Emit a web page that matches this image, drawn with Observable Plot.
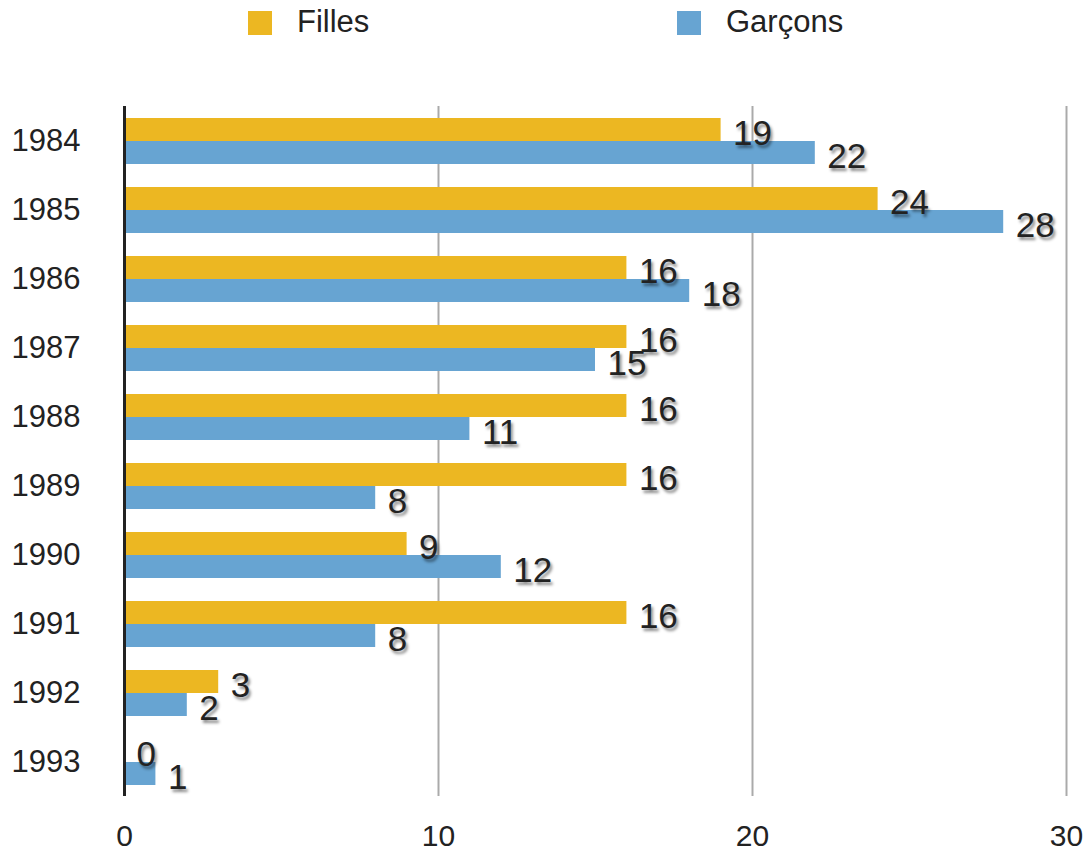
<!DOCTYPE html>
<html>
<head>
<meta charset="utf-8">
<script src="https://cdn.jsdelivr.net/npm/d3@7"></script>
<script src="https://cdn.jsdelivr.net/npm/@observablehq/plot@0.6"></script>
<style>
  body { margin: 0; background: #fff; font-family: "Liberation Sans", Arial, Helvetica, sans-serif; }
  #legend { position: relative; height: 60px; width: 1089px; }
  .sw { position: absolute; top: 11px; width: 24px; height: 24px; }
  .lb { position: absolute; top: 5px; font-size: 31px; color: #222; line-height: 34px; }
  g[aria-label="text"] text { text-shadow: 2px 3px 3px rgba(0,0,0,0.45); }
</style>
</head>
<body>
<div id="legend">
  <div class="sw" style="left:248px;background:#ECB722"></div>
  <div class="lb" style="left:297px">Filles</div>
  <div class="sw" style="left:677px;background:#67A4D2"></div>
  <div class="lb" style="left:726px">Garçons</div>
</div>
<div id="chart"></div>
<script>
const years = ["1984","1985","1986","1987","1988","1989","1990","1991","1992","1993"];
const series = ["Filles","Garçons"];
const filles = [19,24,16,16,16,16,9,16,3,0];
const garcons = [22,28,18,15,11,8,12,8,2,1];
const xTicks = [0,10,20,30];
const colors = ["#ECB722","#67A4D2"];

const data = [];
years.forEach((y,i) => {
  data.push({year: y, sex: series[0], value: filles[i]});
  data.push({year: y, sex: series[1], value: garcons[i]});
});

const chart = Plot.plot({
  width: 1089,
  height: 794,
  marginLeft: 124,
  marginRight: 23,
  marginTop: 45,
  marginBottom: 57,
  style: {fontFamily: '"Liberation Sans", Arial, Helvetica, sans-serif', color: "#222", background: "#fff"},
  x: {domain: [0,30], ticks: xTicks, label: null},
  fy: {domain: years, padding: 0, label: null},
  y: {domain: series, paddingInner: 0, paddingOuter: 0.44, axis: null},
  color: {domain: series, range: colors},
  marks: [
    Plot.ruleX(xTicks.slice(1), {stroke: "#aaa", strokeWidth: 2}),
    Plot.barX(data, {x: "value", y: "sex", fy: "year", fill: "sex"}),
    Plot.ruleX([0], {stroke: "#222", strokeWidth: 3}),
    Plot.text(data, {x: "value", y: "sex", fy: "year", text: d => String(d.value), textAnchor: "start", dx: 12, dy: 4, fontSize: 35, fill: "#222"}),
    Plot.axisX({ticks: xTicks, tickSize: 0, tickPadding: 28, fontSize: 30, label: null}),
    Plot.axisFy({anchor: "left", tickSize: 0, tickPadding: 44, fontSize: 31, label: null})
  ]
});
document.getElementById("chart").appendChild(chart);
</script>
</body>
</html>
